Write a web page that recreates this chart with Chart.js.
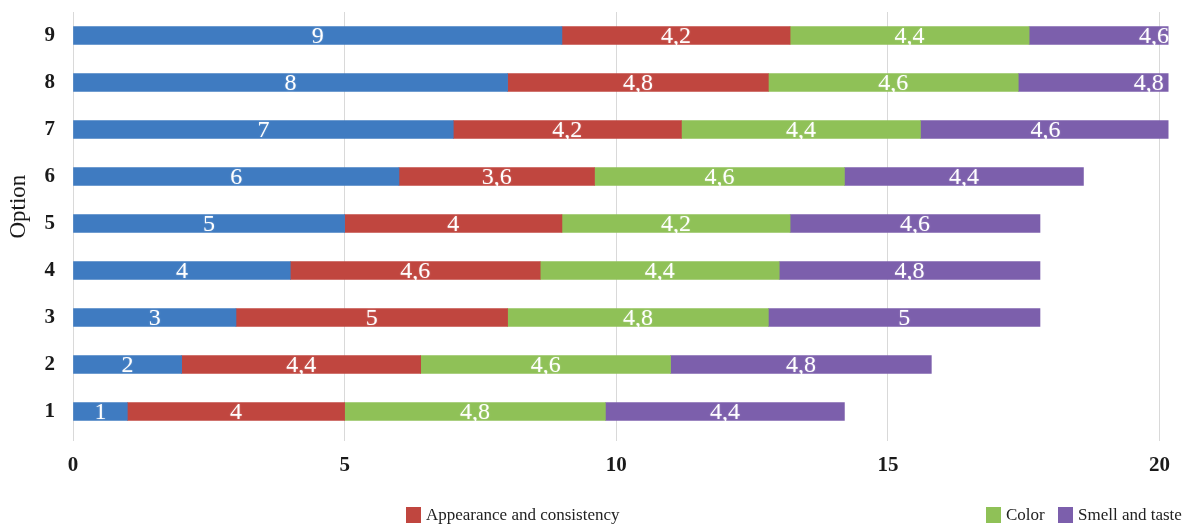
<!DOCTYPE html>
<html>
<head>
<meta charset="utf-8">
<script src="https://cdn.jsdelivr.net/npm/chart.js@4.4.1/dist/chart.umd.min.js"></script>
<style>
  html, body { margin: 0; padding: 0; background: #fff; }
  #wrap { position: relative; width: 1182px; height: 530px; }
  #legend { position: absolute; left: 0; top: 505px; width: 1182px; height: 24px;
    font-family: "Liberation Serif", "Times New Roman", serif; font-size: 17px; color: #222; }
  #legend .item { position: absolute; top: 0; display: flex; align-items: center; white-space: nowrap; }
  #legend .box { width: 15px; height: 16px; margin-right: 5px; }
</style>
</head>
<body>
<div id="wrap">
  <canvas id="chart" width="1182" height="530"></canvas>
  <div id="legend"></div>
</div>
<script>
const options = ['1', '2', '3', '4', '5', '6', '7', '8', '9'];
const optionScore = [1, 2, 3, 4, 5, 6, 7, 8, 9];
const appearance = [4, 4.4, 5, 4.6, 4, 3.6, 4.2, 4.8, 4.2];
const color = [4.8, 4.6, 4.8, 4.4, 4.2, 4.6, 4.4, 4.6, 4.4];
const smellTaste = [4.4, 4.8, 5, 4.8, 4.6, 4.4, 4.6, 4.8, 4.6];
const xTicks = [0, 5, 10, 15, 20];

const serif = '"Liberation Serif", "Times New Roman", serif';

// legend slots (left edge of each coloured box)
const legendLeft = [null, 406, 986, 1058];

const labelPlugin = {
  id: 'barLabels',
  afterDatasetsDraw(chart) {
    const ctx = chart.ctx;
    ctx.save();
    ctx.font = '24px ' + serif;
    ctx.fillStyle = '#ffffff';
    ctx.textAlign = 'center';
    ctx.textBaseline = 'middle';
    chart.data.datasets.forEach((ds, i) => {
      chart.getDatasetMeta(i).data.forEach((bar, j) => {
        const cx = (bar.x + bar.base) / 2;
        ctx.shadowColor = 'rgba(255,255,255,0.35)';
        ctx.shadowBlur = 2;
        ctx.fillText(String(ds.data[j]).replace('.', ','), cx, bar.y + 1);
      });
    });
    ctx.restore();
  }
};

// axis title sits a little above the middle of the category axis
const axisTitle = {
  id: 'axisTitle',
  afterDraw(chart) {
    const ctx = chart.ctx;
    const area = chart.chartArea;
    ctx.save();
    ctx.translate(19, area.top + (area.bottom - area.top) * 0.46);
    ctx.rotate(-Math.PI / 2);
    ctx.font = '23px ' + serif;
    ctx.fillStyle = '#1a1a1a';
    ctx.textAlign = 'center';
    ctx.textBaseline = 'middle';
    ctx.fillText('Option', 0, 0);
    ctx.restore();
  }
};

const datasets = [
  { label: 'Option', data: optionScore, backgroundColor: '#3f7bc1' },
  { label: 'Appearance and consistency', data: appearance, backgroundColor: '#c0463f' },
  { label: 'Color', data: color, backgroundColor: '#8fc157' },
  { label: 'Smell and taste', data: smellTaste, backgroundColor: '#7c5fac' }
].map((d) => Object.assign(d, { barThickness: 18, borderWidth: 0, clip: { left: 0, top: 0, right: 9, bottom: 0 } }));

new Chart(document.getElementById('chart'), {
  type: 'bar',
  data: { labels: options, datasets },
  plugins: [labelPlugin, axisTitle],
  options: {
    indexAxis: 'y',
    responsive: false,
    animation: false,
    layout: { padding: { top: 0, right: 19, left: 0, bottom: 0 } },
    plugins: { legend: { display: false }, tooltip: { enabled: false } },
    scales: {
      x: {
        stacked: true,
        min: 0,
        max: 20,
        afterBuildTicks: (scale) => { scale.ticks = xTicks.map((v) => ({ value: v })); },
        afterFit: (scale) => { scale.height = 95; },
        grid: { color: '#d9d9d9', tickLength: 6, drawTicks: true },
        border: { display: false },
        ticks: { color: '#1a1a1a', padding: 12, font: { family: serif, size: 21, weight: 'bold' } }
      },
      y: {
        stacked: true,
        reverse: true,
        afterFit: (scale) => {
          scale.width = 73;
          scale.paddingTop = 12;
          scale.paddingBottom = 0;
        },
        grid: { display: false, drawTicks: false },
        border: { display: true, color: '#d9d9d9' },
        ticks: { color: '#1a1a1a', padding: 18, font: { family: serif, size: 21, weight: 'bold' } }
      }
    }
  }
});

// legend for the three rated criteria
const legend = document.getElementById('legend');
datasets.forEach((d, i) => {
  if (legendLeft[i] == null) return;
  const item = document.createElement('div');
  item.className = 'item';
  item.style.left = legendLeft[i] + 'px';
  item.innerHTML = `<span class="box" style="background:${d.backgroundColor}"></span><span>${d.label}</span>`;
  legend.appendChild(item);
});
</script>
</body>
</html>
